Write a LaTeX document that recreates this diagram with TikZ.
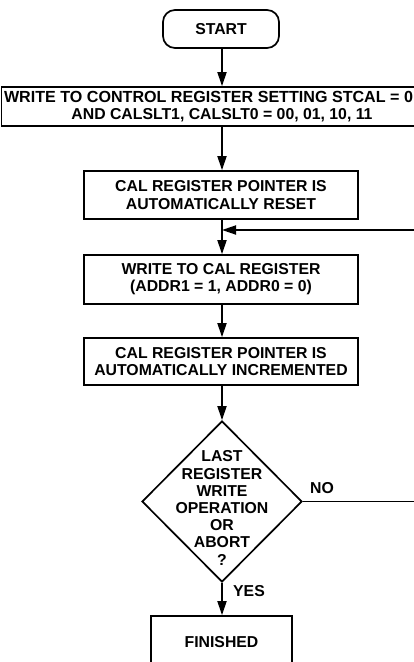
\documentclass[tikz,border=0pt]{standalone}
\usepackage{fontspec}
\setmainfont{Liberation Sans}
\usetikzlibrary{arrows.meta,shapes.geometric}
\begin{document}
\begin{tikzpicture}[x=1pt,y=-1pt,
  every node/.style={font=\fontsize{15.8}{17.2}\selectfont\bfseries, align=center, inner sep=0pt},
  box/.style={draw, line width=1.7pt, rectangle},
  flow/.style={line width=1.8pt, -{Triangle[length=14pt,width=9pt]}}]
\useasboundingbox (0,0) rectangle (414,662);
\clip (0,0) rectangle (414,662);
\node[box, rounded corners=12pt, minimum width=116pt, minimum height=38pt] (start) at (221,29) {START};
\node[box, minimum width=441pt, minimum height=39pt] (b1) at (222,106.5) {\hspace*{-27pt}{\fontsize{16.1}{17.2}\selectfont WRITE TO CONTROL REGISTER SETTING STCAL = 0}\\AND CALSLT1, CALSLT0 = 00, 01, 10, 11};
\node[box, minimum width=274pt, minimum height=48pt] (b2) at (221,195) {CAL REGISTER POINTER IS\\AUTOMATICALLY RESET};
\node[box, minimum width=274pt, minimum height=49pt] (b3) at (221,279.5) {WRITE TO CAL REGISTER\\(ADDR1 = 1, ADDR0 = 0)};
\node[box, minimum width=274pt, minimum height=47pt] (b4) at (221,361.5) {CAL REGISTER POINTER IS\\AUTOMATICALLY INCREMENTED};
\node[draw, diamond, line width=1.7pt, minimum width=160pt, minimum height=161pt] (dec) at (222,501.5) {};
\node (dectext) at (222,508) {LAST\\REGISTER\\WRITE\\OPERATION\\OR\\ABORT\\?};
\node[box, minimum width=141pt, minimum height=52pt] (fin) at (221.5,642) {FINISHED};
\node[anchor=west] (no) at (310,488) {NO};
\node[anchor=west] (yes) at (233,591) {YES};
\coordinate (join) at (222,230);
\coordinate (r1) at (430,501.5);
\coordinate (r2) at (430,230);
\draw[flow] (start.south -| 222,0) -- (b1.north -| 222,0);
\draw[flow] (b1.south -| 222,0) -- (b2.north -| 222,0);
\draw[flow] (b2.south -| 222,0) -- (b3.north -| 222,0);
\draw[flow] (b3.south -| 222,0) -- (b4.north -| 222,0);
\draw[flow] (b4.south -| 222,0) -- (dec.north);
\draw[flow] (dec.south) -- (fin.north -| 222,0);
\draw[flow] (dec.east) -- (r1) -- (r2) -- (join);
\end{tikzpicture}
\end{document}
